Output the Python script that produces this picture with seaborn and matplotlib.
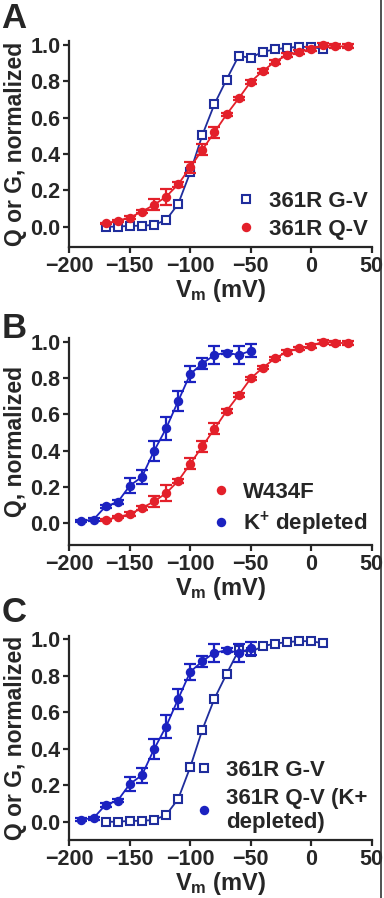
import numpy as np
import pandas as pd
import matplotlib
matplotlib.use("Agg")
import matplotlib.pyplot as plt
import seaborn as sns
from matplotlib.lines import Line2D

# data
v_gv = [-170, -160, -150, -140, -130, -120, -110, -100, -90, -80, -70,
        -60, -50, -40, -30, -20, -10, 0, 10]
g_361r = [0.0, 0.0, 0.005, 0.005, 0.01, 0.037, 0.125, 0.30, 0.505, 0.675, 0.81,
          0.94, 0.93, 0.963, 0.976, 0.985, 0.99, 0.99, 0.978]

v_qv = [-170, -160, -150, -140, -130, -120, -110, -100, -90, -80, -70,
        -60, -50, -40, -30, -20, -10, 0, 10, 20, 30]
q_361r = [0.018, 0.033, 0.05, 0.083, 0.12, 0.165, 0.233, 0.327, 0.424, 0.52, 0.618,
          0.706, 0.798, 0.857, 0.908, 0.945, 0.963, 0.978, 1.0, 0.993, 0.993]
q_361r_err = [0.005, 0.005, 0.01, 0.01, 0.03, 0.045, 0.012, 0.03, 0.03, 0.03, 0.01,
              0.01, 0.01, 0.01, 0.01, 0.01, 0.01, 0.01, 0.01, 0.01, 0.01]

v_kd = [-190, -180, -170, -160, -150, -140, -130, -120, -110, -100, -90,
        -80, -70, -60, -50]
q_kd = [0.012, 0.02, 0.093, 0.116, 0.207, 0.255, 0.397, 0.522, 0.673, 0.822, 0.88,
        0.927, 0.94, 0.927, 0.95]
q_kd_err = [0.008, 0.008, 0.01, 0.01, 0.04, 0.04, 0.055, 0.065, 0.055, 0.045, 0.03,
            0.05, 0.01, 0.05, 0.035]

red = "#e3202a"
navy = "#1f2d9c"
blue = "#1b22c0"

sns.set_style("ticks")
plt.rcParams["font.family"] = ["Liberation Sans", "DejaVu Sans"]
plt.rcParams["font.weight"] = "bold"
plt.rcParams["mathtext.fontset"] = "custom"
plt.rcParams["mathtext.rm"] = "Liberation Sans:bold"
plt.rcParams["mathtext.it"] = "Liberation Sans:bold"
plt.rcParams["mathtext.bf"] = "Liberation Sans:bold"
plt.rcParams["mathtext.default"] = "bf"

fig = plt.figure(figsize=(3.84, 8.98), dpi=100)

panels = [
    ("A", [0.1805, 0.7253, 0.7875, 0.2286], -0.11, "Q or G, normalized", 0.998),
    ("B", [0.1805, 0.3931, 0.7875, 0.2304], -0.12, "Q, normalized", 0.653),
    ("C", [0.1805, 0.0646, 0.7875, 0.2275], -0.10, "Q or G, normalized", 0.336),
]


def draw_squares(ax, label):
    df = pd.DataFrame({"v": v_gv, "y": g_361r})
    sns.lineplot(data=df, x="v", y="y", ax=ax, color=navy, lw=1.3,
                 marker="s", markersize=6.2, markerfacecolor="white",
                 markeredgecolor=navy, markeredgewidth=1.5, label=label,
                 clip_on=False)


def draw_circles(ax, v, y, err, color, label):
    df = pd.DataFrame({"v": v, "y": y})
    ax.errorbar(v, y, yerr=err, fmt="none", ecolor=color, elinewidth=1.6,
                capsize=4, capthick=1.6, clip_on=False)
    sns.lineplot(data=df, x="v", y="y", ax=ax, color=color, lw=1.3,
                 marker="o", markersize=6.8, markeredgewidth=0,
                 label=label, clip_on=False)


axes = {}
for letter, pos, ybot, ylab, ytxt in panels:
    ax = fig.add_axes(pos)
    axes[letter] = ax
    ax.set_xlim(-200, 50)
    ax.set_ylim(ybot, 1.02)
    ax.set_xticks([-200, -150, -100, -50, 0, 50])
    ax.set_yticks([0.0, 0.2, 0.4, 0.6, 0.8, 1.0])
    ax.set_yticklabels(["0.0", "0.2", "0.4", "0.6", "0.8", "1.0"])
    sns.despine(ax=ax)
    for s in ["left", "bottom"]:
        ax.spines[s].set_linewidth(1.6)
    ax.tick_params(axis="both", direction="out", length=4.5, width=1.6,
                   labelsize=15.5, pad=2)
    ax.set_xlabel("$V_m$ (mV)", fontsize=17, fontweight="bold", labelpad=0)
    ax.set_ylabel(ylab, fontsize=16.5, fontweight="bold", labelpad=2)
    fig.text(0.004, ytxt, letter, fontsize=25, fontweight="bold",
             va="top", ha="left")

# Panel A
ax = axes["A"]
draw_squares(ax, "361R G-V")
draw_circles(ax, v_qv, q_361r, q_361r_err, red, "361R Q-V")

# Panel B
ax = axes["B"]
draw_circles(ax, v_qv, q_361r, q_361r_err, red, "W434F")
draw_circles(ax, v_kd, q_kd, q_kd_err, blue, "K$^{+}$ depleted")

# Panel C
ax = axes["C"]
draw_squares(ax, "361R G-V")
draw_circles(ax, v_kd, q_kd, q_kd_err, blue, "361R Q-V (K+\ndepleted)")

for letter in ["A", "B", "C"]:
    ax = axes[letter]
    handles, labels = ax.get_legend_handles_labels()
    new_handles = []
    for h in handles:
        nh = Line2D([], [], linestyle="none", marker=h.get_marker(),
                    markersize=h.get_markersize(),
                    markerfacecolor=h.get_markerfacecolor(),
                    markeredgecolor=h.get_markeredgecolor(),
                    markeredgewidth=h.get_markeredgewidth())
        new_handles.append(nh)
    ax.legend(new_handles, labels, loc="lower right",
              bbox_to_anchor=(1.03, -0.03), frameon=False, fontsize=16,
              handlelength=0.8, handletextpad=0.6, labelspacing=0.3,
              borderaxespad=0.2)

# thin frame line at the right edge of the image
fig.add_artist(Line2D([0.993, 0.993], [0.0, 1.0], transform=fig.transFigure,
                      color="#333333", lw=1.2))

fig.savefig("out.png", dpi=100)
